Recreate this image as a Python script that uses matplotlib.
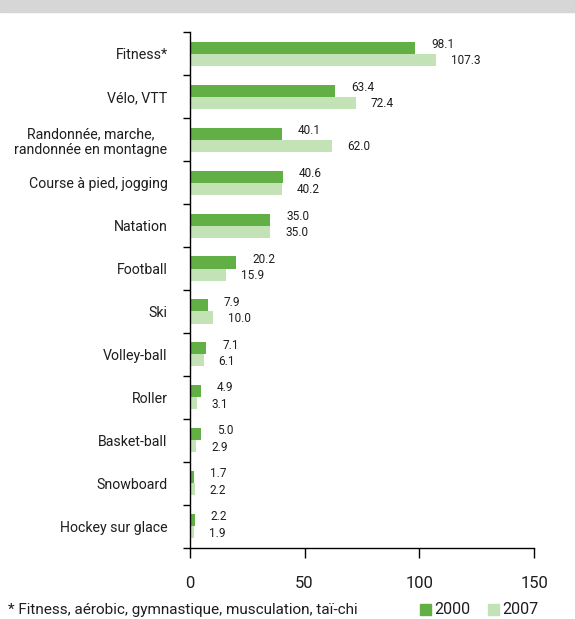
import numpy as np
import matplotlib
matplotlib.use("Agg")
import matplotlib.pyplot as plt
from matplotlib.patches import Rectangle

plt.rcParams['font.family'] = ['Roboto', 'DejaVu Sans']

# data
sports = ['Fitness*', 'Vélo, VTT', 'Randonnée, marche,\nrandonnée en montagne',
          'Course à pied, jogging', 'Natation', 'Football', 'Ski', 'Volley-ball',
          'Roller', 'Basket-ball', 'Snowboard', 'Hockey sur glace']
v2000 = [98.1, 63.4, 40.1, 40.6, 35.0, 20.2, 7.9, 7.1, 4.9, 5.0, 1.7, 2.2]
v2007 = [107.3, 72.4, 62.0, 40.2, 35.0, 15.9, 10.0, 6.1, 3.1, 2.9, 2.2, 1.9]
xticks = [0, 50, 100, 150]

DARK = '#61af45'
LIGHT = '#c3e2b6'
TXT = '#1e1e1e'

fig = plt.figure(figsize=(5.75, 6.19), dpi=100)
ax = fig.add_axes([0.330, 0.115, 0.599, 0.833])

# grey band at top
fig.patches.append(Rectangle((0, 1 - 12/619), 1, 12/619, transform=fig.transFigure,
                             color='#d6d6d6', zorder=0))

n = len(sports)
y = np.arange(n)
h = 0.28
ax.barh(y - h/2, v2000, height=h, color=DARK)
ax.barh(y + h/2, v2007, height=h, color=LIGHT)

for i in range(n):
    ax.text(v2000[i] + 7, y[i] - h/2 - 0.08, f'{v2000[i]:.1f}', fontsize=8.5,
            va='center', ha='left', color=TXT)
    ax.text(v2007[i] + 6.5, y[i] + h/2 + 0.02, f'{v2007[i]:.1f}', fontsize=8.5,
            va='center', ha='left', color=TXT)

ax.set_ylim(n - 0.5, -0.5)
ax.set_xlim(0, 150)
ax.set_xticks(xticks)
ax.set_xticklabels([str(t) for t in xticks], fontsize=12, color=TXT)
ax.set_yticks(np.arange(n + 1) - 0.5, minor=False)
ax.set_yticklabels([])
ax.set_yticks(y, minor=True)
ax.set_yticklabels(sports, minor=True, fontsize=10.2, color=TXT)
for lab in ax.get_yticklabels(minor=True):
    lab.set_multialignment('center')
ax.tick_params(axis='y', which='minor', length=0, pad=16)
ax.tick_params(axis='y', which='major', length=5, width=1)
ax.tick_params(axis='x', length=7, width=1, pad=13)

for s in ['top', 'right']:
    ax.spines[s].set_visible(False)
ax.spines['left'].set_linewidth(1)
ax.spines['bottom'].set_linewidth(1)

fig.text(8/575, 1 - 610/619, '* Fitness, aérobic, gymnastique, musculation, taï-chi',
         fontsize=11, va='center', ha='left', color=TXT)

# legend
for xs, lab, col in [(420, '2000', DARK), (488, '2007', LIGHT)]:
    fig.patches.append(Rectangle((xs/575, 1 - 615/619), 11/575, 11/619,
                                 transform=fig.transFigure, color=col))
    fig.text((xs + 14)/575, 1 - 609/619, lab, fontsize=11.5, va='center', ha='left',
             color=TXT)

plt.savefig('out.png', dpi=100)
